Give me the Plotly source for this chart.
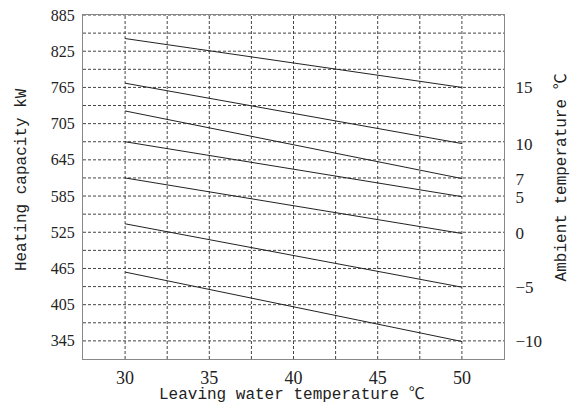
import plotly.graph_objects as go

# Data
x_water = [30, 50]
ambient_labels = ["15", "10", "7", "5", "0", "−5", "−10"]
cap_at_30 = [846, 772, 726, 675, 615, 539, 459]
cap_at_50 = [765, 672, 614, 584, 523, 434, 344]

left_ticks = [345, 405, 465, 525, 585, 645, 705, 765, 825, 885]
grid_y = list(range(345, 886, 30))
grid_x = [30, 32.5, 35, 37.5, 40, 42.5, 45, 47.5, 50]
x_ticks = [30, 35, 40, 45, 50]

FONT = "Liberation Mono, Noto Sans CJK SC, monospace"
NUMFONT = "Liberation Serif, DejaVu Serif, serif"
TXT = "#222222"

fig = go.Figure()
for a, b in zip(cap_at_30, cap_at_50):
    fig.add_trace(go.Scatter(x=x_water, y=[a, b], mode="lines",
                             line=dict(color="#222222", width=1),
                             showlegend=False, hoverinfo="skip"))
# invisible trace for right axis
fig.add_trace(go.Scatter(x=[x_water[-1]], y=[cap_at_50[0]], yaxis="y2",
                         mode="markers", marker=dict(opacity=0),
                         showlegend=False, hoverinfo="skip"))

shapes = []
for gy in grid_y:
    shapes.append(dict(type="line", xref="paper", x0=0, x1=1, yref="y", y0=gy, y1=gy,
                       line=dict(color="#444444", width=1, dash="3px,2px"), layer="below"))
for gx in grid_x:
    shapes.append(dict(type="line", yref="paper", y0=0, y1=1, xref="x", x0=gx, x1=gx,
                       line=dict(color="#444444", width=1, dash="3px,2px"), layer="below"))

fig.update_layout(
    width=571, height=411,
    margin=dict(l=75, r=75, t=7, b=60, autoexpand=False),
    paper_bgcolor="white", plot_bgcolor="white",
    font=dict(family=FONT, size=14, color=TXT),
    shapes=shapes,
    xaxis=dict(range=[27.5, 52.5], tickvals=x_ticks, showgrid=False, zeroline=False,
               showline=True, linecolor="#888888", linewidth=1, mirror=True,
               ticks="", ticklabelstandoff=2, tickfont=dict(size=18, family=NUMFONT, color=TXT)),
    yaxis=dict(range=[315, 885], tickvals=left_ticks, showgrid=False, zeroline=False,
               showline=True, linecolor="#888888", linewidth=1, mirror=True,
               ticklabeloverflow="allow",
               ticks="", ticklabelstandoff=4, tickfont=dict(size=16, family=NUMFONT, color=TXT)),
    yaxis2=dict(range=[315, 885], overlaying="y", side="right",
                tickvals=cap_at_50, ticktext=ambient_labels, showgrid=False,
                zeroline=False, showline=True, linecolor="#888888", linewidth=1,
                ticks="", ticklabelstandoff=7, tickfont=dict(size=17, family=NUMFONT, color=TXT)),
    annotations=[
        dict(text="Leaving water temperature ℃", xref="paper", yref="paper",
             x=0.496, y=-0.106, showarrow=False, xanchor="center", yanchor="middle",
             font=dict(size=16, family=FONT, color=TXT)),
        dict(text="Heating capacity kW", xref="paper", yref="paper",
             x=-0.1449, y=0.523, showarrow=False, textangle=-90,
             xanchor="center", yanchor="middle",
             font=dict(size=16, family=FONT, color=TXT)),
        dict(text="Ambient temperature ℃", xref="paper", yref="paper",
             x=1.1378, y=0.528, showarrow=False, textangle=-90,
             xanchor="center", yanchor="middle",
             font=dict(size=16, family=FONT, color=TXT)),
    ],
)

fig.write_html("out.html")
